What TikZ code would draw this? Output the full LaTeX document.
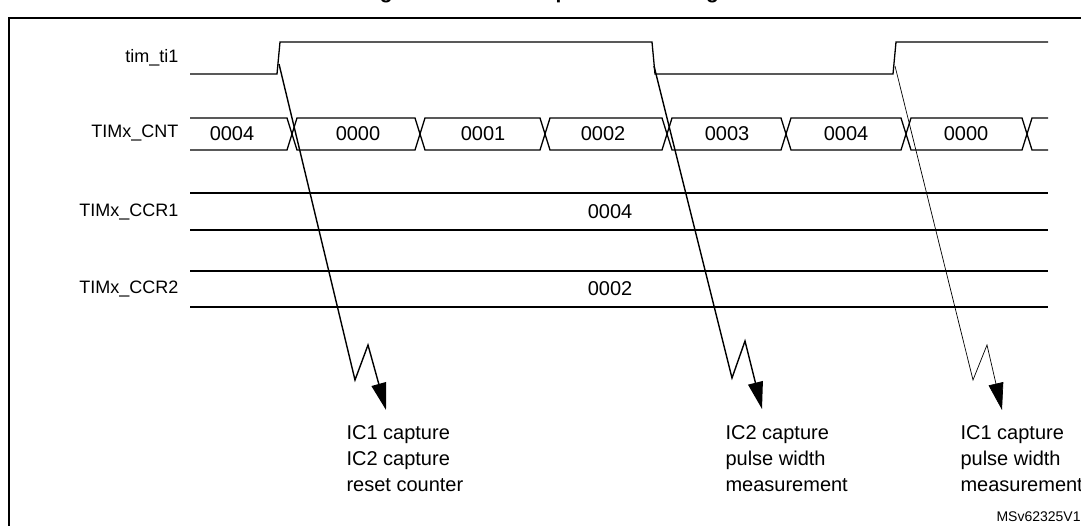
\documentclass[tikz,border=0pt]{standalone}
\usepackage{fontspec}
\setmainfont{Liberation Sans}
\usetikzlibrary{arrows.meta}
\begin{document}
\begin{tikzpicture}[x=1pt,y=-1pt,
  sig/.style={line width=1.3pt},
  lbl/.style={anchor=east,font=\fontsize{18}{20}\selectfont},
  val/.style={font=\fontsize{20}{22}\selectfont},
  note/.style={anchor=north west,align=left,font=\fontsize{20}{26}\selectfont},
  bolt/.style={line width=1.4pt,-{Triangle[length=27pt,width=15pt]}}]
\useasboundingbox (0,0) rectangle (1081,526);
\begin{scope}
\clip (0,0) rectangle (1081,526);
\node[font=\bfseries\fontsize{21}{24}\selectfont,anchor=base] (title) at (540,-1) {Figure 328. PWM input mode timing};
\draw[line width=2pt] (1090,18) -- (9,18) -- (9,540);
% tim_ti1
\node[lbl] (l0) at (182,58) {tim\_ti1};
\draw[sig] (190,74) -- (277,74) -- (280,42) -- (652,42) -- (655,74) -- (893,74) -- (896,42) -- (1048,42);
% CNT bus
\node[lbl] (l1) at (182,133) {TIMx\_CNT};
\draw[sig] (190,118) -- (287,118) -- (297,150) -- (415,150) -- (425,118) -- (540,118) -- (550,150) -- (662,150) -- (672,118) -- (781,118) -- (791,150) -- (901,150) -- (911,118) -- (1022,118) -- (1032,150) -- (1048,150);
\draw[sig] (190,150) -- (287,150) -- (297,118) -- (415,118) -- (425,150) -- (540,150) -- (550,118) -- (662,118) -- (672,150) -- (781,150) -- (791,118) -- (901,118) -- (911,150) -- (1022,150) -- (1032,118) -- (1048,118);
\foreach \x/\v/\n in {232/0004/a,358/0000/b,483/0001/c,603/0002/d,727/0003/e,846/0004/f,966/0000/g}
  \node[val] (c\n) at (\x,134) {\v};
% CCR1
\node[lbl] (l2) at (182,212) {TIMx\_CCR1};
\draw[sig] (190,193) -- (1048,193) (190,230) -- (1048,230);
\node[val] (v1) at (610,212) {0004};
% CCR2
\node[lbl] (l3) at (182,289) {TIMx\_CCR2};
\draw[sig] (190,271) -- (1048,271) (190,307) -- (1048,307);
\node[val] (v2) at (610,289) {0002};
% bolts
\coordinate (s1) at (279,64); \coordinate (k1) at (355,380); \coordinate (m1) at (368,345); \coordinate (t1) at (386,410);
\coordinate (s2) at (654,66); \coordinate (k2) at (732,378); \coordinate (m2) at (745,341); \coordinate (t2) at (762,409);
\coordinate (s3) at (895,66); \coordinate (k3) at (973,380); \coordinate (m3) at (987,345); \coordinate (t3) at (1002,410);
\draw[bolt] (s1) -- (k1) -- (m1) -- (t1);
\draw[bolt] (s2) -- (k2) -- (m2) -- (t2);
\draw[bolt,line width=0.7pt] (s3) -- (k3) -- (m3) -- (t3);
\node[note] (n1) at (343,422) {IC1 capture\\IC2 capture\\reset counter};
\node[note] (n2) at (722,422) {IC2 capture\\pulse width\\measurement};
\node[note] (n3) at (957,422) {IC1 capture\\pulse width\\measurement};
\node[anchor=base west,font=\fontsize{14}{17}\selectfont] (id) at (993,521) {MSv62325V1};
\end{scope}
\end{tikzpicture}
\end{document}
